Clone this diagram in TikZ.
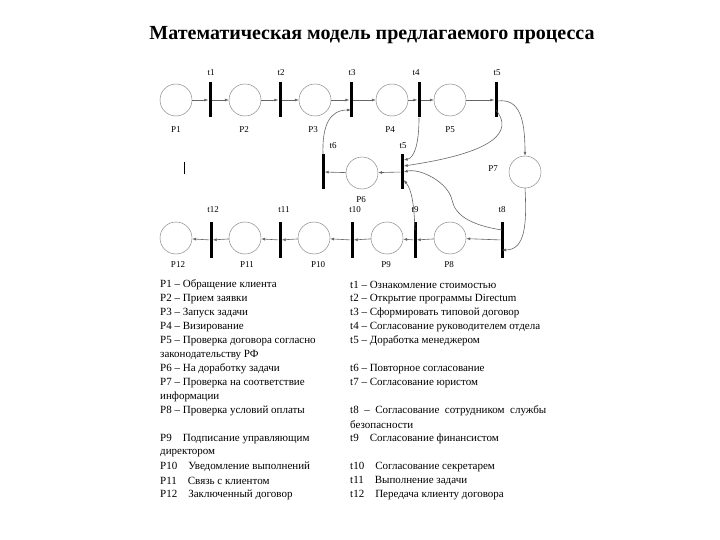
\documentclass[tikz,border=0pt]{standalone}
\usepackage{fontspec}
\setmainfont{Liberation Serif}
\usetikzlibrary{arrows.meta}
\begin{document}
\begin{tikzpicture}[x=1pt,y=-1pt,
 place/.style={circle,draw=black!55,minimum size=32pt,inner sep=0},
 trans/.style={rectangle,fill=black,minimum width=3pt,minimum height=35pt,inner sep=0},
 lbl/.style={font=\fontsize{9}{9}\selectfont,inner sep=0},
 arc/.style={draw=black!60,line width=0.6pt,-{Latex[length=4pt,width=3pt]}},
 leg/.style={font=\fontsize{11}{11}\selectfont,anchor=west,inner sep=0}]
\useasboundingbox (0,0) rectangle (720,540);
\node[font=\bfseries\fontsize{20}{20}\selectfont] (title) at (372,35) {Математическая модель предлагаемого процесса};
% places
\foreach \n/\x/\y in {P1/176/100,P2/245/100,P3/315/100,P4/392/100,P5/450/100,P6/362/173,P7/525/172,P8/450/238,P9/387/238,P10/314/238,P11/245/238,P12/176/238}
  \node[place] (\n) at (\x,\y) {};
\foreach \n/\x/\y in {t1/210/100,t2/280/100,t3/351/100,t4/419/100,t5/496/100,t6/323/172,tm/402/172,t12/211/240,t11/280/240,t10/352/240,t9/415/240,t8/502/240}
  \node[trans] (\n) at (\x,\y) {};
% labels
\foreach \n/\x/\y in {P1/176/130,P2/244/130,P3/313/130,P4/390/130,P5/450/130,P12/178/265,P11/247/265,P10/318/265,P9/386/265,P8/449/265}
  \node[lbl] (l\n) at (\x,\y) {\n};
\node[lbl] (lP6) at (361,200) {P6};
\node[lbl] (lP7) at (493,169) {P7};
\foreach \n/\x/\y in {t1/211,t2/281,t3/352,t4/416,t5/497}
  \node[lbl] (l\n) at (\x,73) {\n};
\node[lbl] (lt6) at (333,146) {t6};
\node[lbl] (lt5b) at (403,146) {t5};
\foreach \n/\x in {t12/213,t11/284,t10/355,t9/415,t8/502}
  \node[lbl] (l\n) at (\x,210) {\n};
% small mark
\coordinate (m1) at (184,162); \coordinate (m2) at (184,174);
\draw[line width=0.6pt] (m1) -- (m2);
% arcs top row
\draw[arc] (P1) -- (t1); \draw[arc] (t1) -- (P2);
\draw[arc] (P2) -- (t2); \draw[arc] (t2) -- (P3);
\draw[arc] (P3) -- (t3); \draw[arc] (t3) -- (P4);
\draw[arc] (P4) -- (t4); \draw[arc] (t4) -- (P5);
\draw[arc] (P5) -- (t5);
% bottom row
\draw[arc] (t8) -- (P8); \draw[arc] (P8) -- (t9);
\draw[arc] (t9) -- (P9); \draw[arc] (P9) -- (t10);
\draw[arc] (t10) -- (P10); \draw[arc] (P10) -- (t11);
\draw[arc] (t11) -- (P11); \draw[arc] (P11) -- (t12);
\draw[arc] (t12) -- (P12);
% middle
\draw[arc] (tm) -- (P6); \draw[arc] (P6) -- (t6);
\draw[arc] (t6.north) .. controls (322,125) and (330,110) .. ([yshift=-10pt]t3.center);
\draw[arc] ([yshift=-1pt]t5.east) .. controls (520,98) and (525,120) .. (P7.north);
\draw[arc] ([yshift=-10pt]t5.center) .. controls (508,125) and (512,150) .. ([yshift=6pt]tm.east);
\draw[arc] (t4.south) .. controls (419,145) and (414,158) .. ([yshift=12pt]tm.east);
\draw[arc] (P7.south) .. controls (527,225) and (525,250) .. ([yshift=-10pt]t8.center);
\draw[arc] ([yshift=10pt]t8.center) .. controls (470,225) and (455,215) .. (452,200) .. controls (448,182) and (420,168) .. ([yshift=0pt]tm.east);
\draw[arc] ([yshift=10pt]t9.center) .. controls (414,205) and (412,190) .. ([yshift=-8pt]tm.east);
% legend
\foreach \i/\t in {0/{P1 – Обращение клиента},1/{P2 – Прием заявки},2/{P3 – Запуск задачи},3/{P4 – Визирование},4/{P5 – Проверка договора согласно},5/{законодательству РФ},6/{P6 – На доработку задачи},7/{P7 – Проверка на соответствие},8/{информации},9/{P8 – Проверка условий оплаты},11/{P9\quad Подписание управляющим},12/{директором},13/{P10\quad Уведомление выполнений},14/{P11\quad Связь с клиентом},15/{P12\quad Заключенный договор}}
  \node[leg] (L\i) at (160,285+14*\i) {\t};
\foreach \i/\t in {0/{t1 – Ознакомление стоимостью},1/{t2 – Открытие программы Directum},2/{t3 – Сформировать типовой договор},3/{t4 – Согласование руководителем отдела},4/{t5 – Доработка менеджером},6/{t6 – Повторное согласование},7/{t7 – Согласование юристом},9/{t8\enspace–\enspace Согласование\enspace сотрудником\enspace службы},10/{безопасности},11/{t9\quad Согласование финансистом},13/{t10\quad Согласование секретарем},14/{t11\quad Выполнение задачи},15/{t12\quad Передача клиенту договора}}
  \node[leg] (R\i) at (350,285+14*\i) {\t};
\end{tikzpicture}
\end{document}
